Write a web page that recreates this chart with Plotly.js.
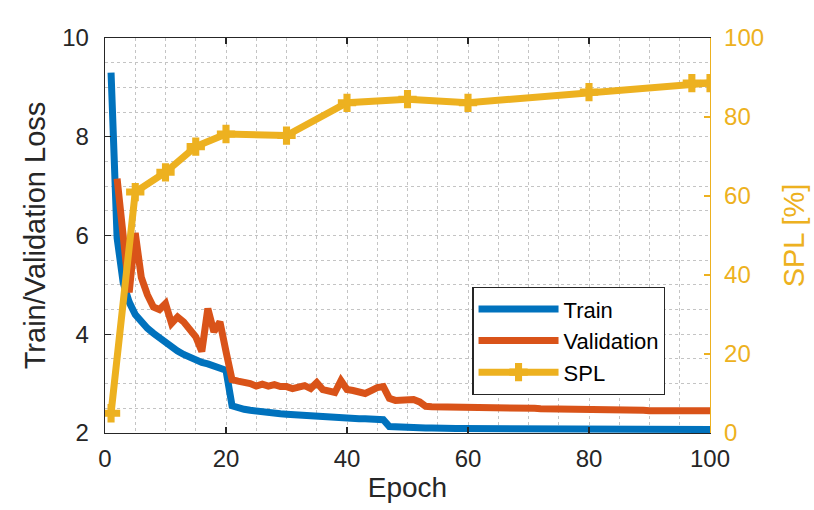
<!DOCTYPE html>
<html>
<head>
<meta charset="utf-8">
<script src="https://cdn.plot.ly/plotly-3.0.1.min.js"></script>
<style>
  body { margin: 0; background: #fff; }
  #myDiv { width: 814px; height: 510px; }
</style>
</head>
<body>
<div id="myDiv"></div>
<script>
  // epochs 1..100 (train), validation starts at epoch 2
  var epochs = [1,2,3,4,5,6,7,8,9,10,11,12,13,14,15,16,17,18,19,20,
    21,22,23,24,25,26,27,28,29,30,31,32,33,34,35,36,37,38,39,40,
    41,42,43,44,45,46,47,48,49,50,51,52,53,54,55,56,57,58,59,60,
    61,62,63,64,65,66,67,68,69,70,71,72,73,74,75,76,77,78,79,80,
    81,82,83,84,85,86,87,88,89,90,91,92,93,94,95,96,97,98,99,100];

  var trainLoss = [9.30,5.95,5.05,4.65,4.40,4.25,4.12,4.02,3.92,3.82,
    3.74,3.66,3.59,3.53,3.48,3.43,3.40,3.36,3.31,3.27,
    2.55,2.50,2.48,2.46,2.44,2.42,2.41,2.40,2.39,2.38,
    2.37,2.36,2.35,2.35,2.34,2.33,2.33,2.32,2.31,2.31,
    2.30,2.29,2.29,2.28,2.28,2.27,2.13,2.12,2.11,2.11,
    2.10,2.10,2.10,2.10,2.09,2.09,2.09,2.09,2.09,2.09,
    2.09,2.09,2.08,2.08,2.08,2.08,2.08,2.08,2.08,2.08,
    2.08,2.08,2.08,2.08,2.08,2.08,2.08,2.08,2.08,2.08,
    2.07,2.07,2.07,2.07,2.07,2.07,2.07,2.07,2.07,2.07,
    2.07,2.07,2.07,2.07,2.07,2.07,2.07,2.07,2.07,2.07];

  var valEpochs = epochs.slice(1);
  var valLoss = [7.15,6.00,4.85,6.05,5.15,4.80,4.55,4.50,4.62,
    4.22,4.35,4.25,4.12,3.95,3.65,4.52,4.05,4.25,3.65,
    3.08,3.05,3.04,3.00,2.95,2.99,2.95,2.98,2.94,2.94,
    2.90,2.94,2.96,2.90,3.02,2.88,2.86,2.82,3.06,2.88,
    2.86,2.84,2.80,2.86,2.92,2.94,2.70,2.66,2.67,2.67,
    2.68,2.63,2.54,2.53,2.53,2.52,2.52,2.52,2.51,2.51,
    2.51,2.51,2.51,2.50,2.50,2.50,2.50,2.50,2.50,2.50,
    2.50,2.49,2.49,2.49,2.49,2.49,2.49,2.49,2.49,2.49,
    2.48,2.48,2.48,2.48,2.48,2.48,2.48,2.47,2.46,2.45,
    2.45,2.45,2.45,2.45,2.45,2.45,2.45,2.45,2.45,2.45];

  var splEpochs = [1, 5, 10, 15, 20, 30, 40, 50, 60, 80, 97, 100];
  var splValues = [5, 61, 66, 72.5, 75.7, 75.3, 83.6, 84.5, 83.6, 86.3, 88.6, 88.6];

  var blue = '#0072BD', orange = '#D95319', yellow = '#EDB120', ink = '#262626';
  var fnt = "'Liberation Sans', Arial, Helvetica, sans-serif";

  var data = [
    {
      x: epochs, y: trainLoss, name: 'Train', type: 'scatter', mode: 'lines',
      line: { color: blue, width: 7 }
    },
    {
      x: valEpochs, y: valLoss, name: 'Validation', type: 'scatter', mode: 'lines',
      line: { color: orange, width: 7 }
    },
    {
      x: splEpochs, y: splValues, name: 'SPL', type: 'scatter', mode: 'lines+markers',
      yaxis: 'y2',
      line: { color: yellow, width: 7 },
      marker: { symbol: 'cross', size: 14, color: yellow, line: { color: yellow, width: 1.5 } }
    }
  ];

  var gridC = '#c4c4c4';
  var layout = {
    width: 814,
    height: 510,
    margin: { l: 105, r: 104, t: 38, b: 77 },
    paper_bgcolor: '#fff',
    plot_bgcolor: '#fff',
    font: { family: fnt, size: 24, color: ink },
    showlegend: true,
    legend: {
      x: 0.607, y: 0.37, xanchor: 'left', yanchor: 'top',
      bgcolor: '#fff', bordercolor: ink, borderwidth: 1.3,
      font: { size: 22, color: '#000' },
      itemwidth: 80, tracegroupgap: 0
    },
    xaxis: {
      range: [0, 100], dtick: 20, tick0: 0,
      ticks: 'inside', ticklen: 6, tickcolor: ink, tickwidth: 1.3,
      showline: true, linecolor: ink, linewidth: 1.3, mirror: 'ticks',
      showgrid: true, gridcolor: gridC, griddash: 'dot', gridwidth: 1,
      minor: { dtick: 5, showgrid: true, gridcolor: gridC, griddash: 'dot', gridwidth: 1 },
      zeroline: false,
      tickfont: { size: 24, color: ink },
      ticklabelstandoff: 4,
      title: { text: 'Epoch', font: { size: 28, color: ink }, standoff: 6 }
    },
    yaxis: {
      range: [2, 10], dtick: 2, tick0: 2,
      ticks: 'inside', ticklen: 6, tickcolor: ink, tickwidth: 1.3,
      showline: true, linecolor: ink, linewidth: 1.3,
      showgrid: true, gridcolor: gridC, griddash: 'dot', gridwidth: 1,
      minor: { dtick: 0.5, showgrid: true, gridcolor: gridC, griddash: 'dot', gridwidth: 1 },
      zeroline: false,
      tickfont: { size: 24, color: ink },
      ticklabelstandoff: 10,
      title: { text: 'Train/Validation Loss', font: { size: 29, color: ink }, standoff: 8 }
    },
    yaxis2: {
      overlaying: 'y', side: 'right',
      range: [0, 100], dtick: 20, tick0: 0,
      ticks: 'inside', ticklen: 6, tickcolor: yellow, tickwidth: 1.3,
      showline: true, linecolor: yellow, linewidth: 1.3,
      showgrid: false, zeroline: false,
      tickfont: { size: 24, color: yellow },
      ticklabelstandoff: 8,
      title: { text: 'SPL [%]', font: { size: 29, color: yellow }, standoff: 20 }
    }
  };

  Plotly.newPlot('myDiv', data, layout, { displayModeBar: false, staticPlot: true });
</script>
</body>
</html>
